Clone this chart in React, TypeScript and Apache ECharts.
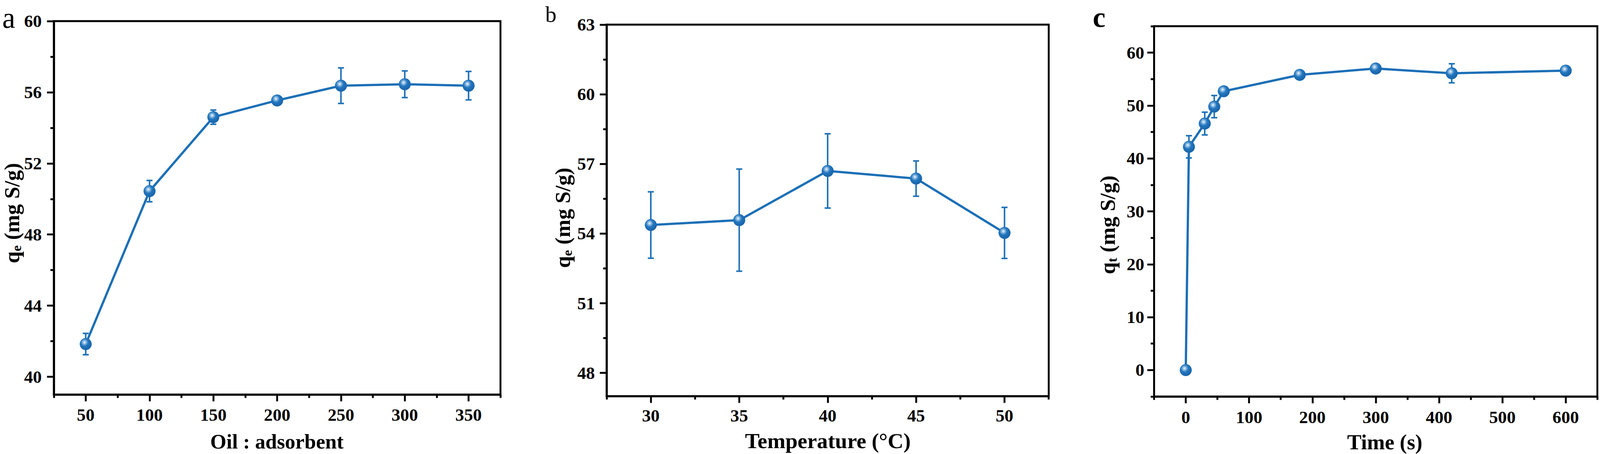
import React, { useEffect, useRef, useState } from 'react';
import * as echarts from 'echarts';

// ---------------- data ----------------
const oilRatio = [50, 100, 150, 200, 250, 300, 350];
const qeOil = [41.84, 50.44, 54.6, 55.54, 56.37, 56.45, 56.37];
const errOil = [0.6, 0.6, 0.4, 0.15, 1.0, 0.75, 0.8];

const temperature = [30, 35, 40, 45, 50];
const qeTemp = [54.37, 54.58, 56.7, 56.37, 54.03];
const errTemp = [1.43, 2.2, 1.6, 0.76, 1.1];

const timeS = [0, 5, 30, 45, 60, 180, 300, 420, 600];
const qtTime = [0, 42.2, 46.6, 49.8, 52.7, 55.8, 57.0, 56.1, 56.6];
const errTime = [0, 2.1, 2.15, 2.1, 0.6, 0.5, 0.7, 1.8, 0.8];

// tick labels / positions
const xTicksA = [50, 100, 150, 200, 250, 300, 350];
const xMinorA = [25, 75, 125, 175, 225, 275, 325, 375];
const yTicksA = [40, 44, 48, 52, 56, 60];
const yMinorA = [42, 46, 50, 54, 58];

const xTicksB = [30, 35, 40, 45, 50];
const xMinorB = [27.5, 32.5, 37.5, 42.5, 47.5, 52.5];
const yTicksB = [48, 51, 54, 57, 60, 63];
const yMinorB = [49.5, 52.5, 55.5, 58.5, 61.5];

const xTicksC = [0, 100, 200, 300, 400, 500, 600];
const xMinorC = [-50, 50, 150, 250, 350, 450, 550, 650];
const yTicksC = [0, 10, 20, 30, 40, 50, 60];
const yMinorC = [-5, 5, 15, 25, 35, 45, 55, 65];

const FONT = '"Liberation Serif", "Times New Roman", serif';
const BLUE = '#1b6fb6';
const DW = 4252;
const DH = 1161;

const panels = [
  {
    grid: { left: 143, top: 54, width: 1187, height: 955 },
    xMin: 25, xMax: 375, yMin: 39, yMax: 60,
    xT: xTicksA, xM: xMinorA, yT: yTicksA, yM: yMinorA,
    xs: oilRatio, ys: qeOil, es: errOil,
    xMargin: 31, yMargin: 32,
  },
  {
    grid: { left: 1612, top: 63, width: 1175, height: 950 },
    xMin: 27.5, xMax: 52.5, yMin: 47, yMax: 63,
    xT: xTicksB, xM: xMinorB, yT: yTicksB, yM: yMinorB,
    xs: temperature, ys: qeTemp, es: errTemp,
    xMargin: 29, yMargin: 31,
  },
  {
    grid: { left: 3067, top: 67, width: 1178, height: 947 },
    xMin: -50, xMax: 650, yMin: -5, yMax: 65,
    xT: xTicksC, xM: xMinorC, yT: yTicksC, yM: yMinorC,
    xs: timeS, ys: qtTime, es: errTime,
    xMargin: 32, yMargin: 26,
  },
];

function markerFill() {
  return new echarts.graphic.RadialGradient(0.4, 0.36, 0.62, [
    { offset: 0, color: '#f4f8fc' },
    { offset: 0.22, color: '#8dbbe3' },
    { offset: 0.5, color: '#2376bd' },
    { offset: 1, color: '#1864ab' },
  ]);
}

function buildOption(sx: number, sy: number) {
  const s = Math.min(sx, sy);
  const grid: any[] = [];
  const xAxis: any[] = [];
  const yAxis: any[] = [];
  const series: any[] = [];
  const lineStyleK = { color: '#000', width: 5 * s };
  const labelBase = { fontFamily: FONT, fontWeight: 'bold', fontSize: 47 * s, color: '#000' };

  panels.forEach((p, i) => {
    const g = {
      left: p.grid.left * sx,
      top: p.grid.top * sy,
      width: p.grid.width * sx,
      height: p.grid.height * sy,
    };
    grid.push({ ...g, show: true, borderColor: '#000', borderWidth: 5 * s, backgroundColor: 'transparent', containLabel: false });
    grid.push({ ...g, show: false, containLabel: false });
    const gMain = 2 * i;
    const gMinor = 2 * i + 1;
    xAxis.push({
      type: 'value', gridIndex: gMain, min: p.xMin, max: p.xMax, position: 'bottom',
      axisLine: { show: true, onZero: false, lineStyle: lineStyleK },
      axisTick: { show: true, customValues: p.xT, length: 18 * s, lineStyle: lineStyleK },
      axisLabel: { show: true, customValues: p.xT, margin: p.xMargin * s, ...labelBase },
      splitLine: { show: false },
    });
    xAxis.push({
      type: 'value', gridIndex: gMinor, min: p.xMin, max: p.xMax, position: 'bottom',
      axisLine: { show: false, onZero: false },
      axisTick: { show: true, customValues: p.xM, length: 9 * s, lineStyle: lineStyleK },
      axisLabel: { show: false },
      splitLine: { show: false },
    });
    yAxis.push({
      type: 'value', gridIndex: gMain, min: p.yMin, max: p.yMax, position: 'left',
      axisLine: { show: true, onZero: false, lineStyle: lineStyleK },
      axisTick: { show: true, customValues: p.yT, length: 18 * s, lineStyle: lineStyleK },
      axisLabel: { show: true, customValues: p.yT, margin: p.yMargin * s, ...labelBase },
      splitLine: { show: false },
    });
    yAxis.push({
      type: 'value', gridIndex: gMinor, min: p.yMin, max: p.yMax, position: 'left',
      axisLine: { show: false, onZero: false },
      axisTick: { show: true, customValues: p.yM, length: 9 * s, lineStyle: lineStyleK },
      axisLabel: { show: false },
      splitLine: { show: false },
    });

    const axisIdx = 2 * i;
    series.push({
      type: 'custom',
      xAxisIndex: axisIdx,
      yAxisIndex: axisIdx,
      z: 2,
      silent: true,
      data: p.xs.map((x, k) => [x, p.ys[k] - p.es[k], p.ys[k] + p.es[k]]),
      encode: { x: 0, y: [1, 2] },
      renderItem: (params: any, api: any) => {
        const x = api.value(0);
        const lo = api.value(1);
        const hi = api.value(2);
        if (!(hi - lo > 0)) return { type: 'group', children: [] };
        const top = api.coord([x, hi]);
        const bot = api.coord([x, lo]);
        const cap = 8 * s;
        const style = { stroke: BLUE, lineWidth: 4 * s };
        return {
          type: 'group',
          children: [
            { type: 'line', shape: { x1: top[0], y1: top[1], x2: bot[0], y2: bot[1] }, style },
            { type: 'line', shape: { x1: top[0] - cap, y1: top[1], x2: top[0] + cap, y2: top[1] }, style },
            { type: 'line', shape: { x1: bot[0] - cap, y1: bot[1], x2: bot[0] + cap, y2: bot[1] }, style },
          ],
        };
      },
    });
    series.push({
      type: 'line',
      xAxisIndex: axisIdx,
      yAxisIndex: axisIdx,
      z: 3,
      data: p.xs.map((x, k) => [x, p.ys[k]]),
      symbol: 'circle',
      symbolSize: 32 * s,
      showAllSymbol: true,
      lineStyle: { color: BLUE, width: 6 * s },
      itemStyle: { color: markerFill(), borderWidth: 0 },
      emphasis: { disabled: true },
    });
  });

  const txt = (text: string, x: number, y: number, size: number, weight: string, align = 'center', valign = 'middle') => ({
    type: 'text',
    x: x * sx, y: y * sy,
    silent: true,
    style: {
      text, fontFamily: FONT, fontSize: size * s, fontWeight: weight, fill: '#000',
      align, verticalAlign: valign, textAlign: align, textVerticalAlign: valign,
    },
  });

  const yTitle = (sub: string, x: number, y: number) => ({
    type: 'text',
    x: x * sx, y: y * sy,
    rotation: Math.PI / 2,
    silent: true,
    style: {
      text: `{m|q}{s|${sub}}{m| (mg S/g)}`,
      align: 'center', verticalAlign: 'middle', textAlign: 'center', textVerticalAlign: 'middle',
      rich: {
        m: { fontFamily: FONT, fontSize: 57 * s, fontWeight: 'bold', fill: '#000', color: '#000' },
        s: { fontFamily: FONT, fontSize: 36 * s, fontWeight: 'bold', fill: '#000', color: '#000', padding: [24 * s, 0, 0, 0] },
      },
    },
  });

  const graphic = [
    txt('a', 6, 8, 78, 'normal', 'left', 'top'),
    txt('b', 1449, 8, 60, 'normal', 'left', 'top'),
    txt('c', 2904, 8, 76, 'bold', 'left', 'top'),
    txt('Oil : adsorbent', 736, 1129, 55, 'bold'),
    txt('Temperature (°C)', 2200, 1127, 58, 'bold'),
    txt('Time (s)', 3680, 1130, 57, 'bold'),
    yTitle('e', 32, 545),
    yTitle('e', 1495, 557),
    yTitle('t', 2943, 575),
  ];

  return {
    animation: false,
    backgroundColor: '#ffffff',
    grid, xAxis, yAxis, series, graphic,
  };
}

function viewport() {
  const w = window.innerWidth || DW;
  const h = window.innerHeight || DH;
  return { w, h };
}

export default function App() {
  const ref = useRef<HTMLDivElement>(null);
  const [size] = useState(viewport);
  useEffect(() => {
    document.body.style.margin = '0';
    document.body.style.overflow = 'hidden';
    document.documentElement.style.overflow = 'hidden';
    if (!ref.current) return;
    const { w, h } = size;
    const chart = echarts.init(ref.current, undefined, { renderer: 'svg', width: w, height: h });
    chart.setOption(buildOption(w / DW, h / DH) as any);
    return () => chart.dispose();
  }, [size]);
  return (
    <div
      ref={ref}
      style={{ position: 'absolute', left: 0, top: 0, width: size.w, height: size.h, background: '#fff' }}
    />
  );
}
